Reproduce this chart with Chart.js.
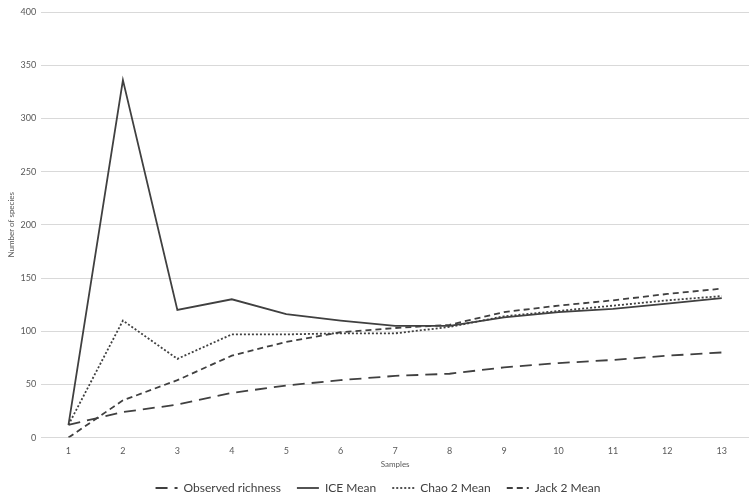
<!DOCTYPE html>
<html>
<head>
<meta charset="utf-8">
<script src="https://cdn.jsdelivr.net/npm/chart.js@4/dist/chart.umd.min.js"></script>
<style>
  html, body { margin: 0; padding: 0; background: #fff; }
  #wrap { width: 756px; height: 499px; position: relative; }
</style>
</head>
<body>
<div id="wrap"><canvas id="speciesChart"></canvas></div>
<script>
// Samples along the x axis
const samples = ['1', '2', '3', '4', '5', '6', '7', '8', '9', '10', '11', '12', '13'];

// Series
const observedRichness = [12, 24, 31, 42, 49, 54, 58, 60, 66, 70, 73, 77, 80];
const iceMean = [12, 336, 120, 130, 116, 110, 105, 105, 113, 118, 121, 126, 131];
const chao2Mean = [12, 110, 74, 97, 97, 98, 98, 104, 114, 119, 124, 129, 133];
const jack2Mean = [0, 35, 54, 77, 90, 99, 103, 106, 118, 124, 129, 135, 140];

const lineColor = '#404040';
const tickColor = '#595959';

function makeSeries(label, data, dash) {
    return {
        label: label,
        data: data,
        borderColor: lineColor,
        backgroundColor: lineColor,
        borderWidth: 1.8,
        borderDash: dash,
        pointRadius: 0,
        fill: false,
        tension: 0
    };
}

// Legend items: keep the dash pattern of each line
function legendLabels(chart) {
    const items = Chart.defaults.plugins.legend.labels.generateLabels(chart);
    items.forEach(item => {
        item.lineDash = chart.data.datasets[item.datasetIndex].borderDash;
    });
    return items;
}

const ctx = document.getElementById('speciesChart').getContext('2d');
new Chart(ctx, {
    type: 'line',
    data: {
        labels: samples,
        datasets: [
            makeSeries('Observed richness', observedRichness, [12, 7]),
            makeSeries('ICE Mean', iceMean, []),
            makeSeries('Chao 2 Mean', chao2Mean, [2, 2]),
            makeSeries('Jack 2 Mean', jack2Mean, [6, 4])
        ]
    },
    options: {
        responsive: true,
        maintainAspectRatio: false,
        animation: false,
        layout: { padding: { top: 12, right: 7, left: 7, bottom: -5 } },
        plugins: {
            legend: {
                position: 'bottom',
                labels: {
                    usePointStyle: true,
                    pointStyle: 'line',
                    pointStyleWidth: 22,
                    boxHeight: 10,
                    padding: 16,
                    color: '#404040',
                    font: { family: 'Lato', size: 12 },
                    generateLabels: legendLabels
                }
            },
            tooltip: { enabled: false }
        },
        scales: {
            x: {
                offset: true,
                grid: { display: false, drawTicks: false },
                border: { display: false },
                ticks: { color: tickColor, font: { family: 'Lato', size: 9 }, padding: 8, maxRotation: 0 },
                title: { display: true, text: 'Samples', color: tickColor, font: { family: 'Lato', size: 8 }, padding: { top: -5, bottom: -3 } }
            },
            y: {
                min: 0,
                max: 400,
                ticks: { stepSize: 50, color: tickColor, font: { family: 'Lato', size: 9 }, padding: 5 },
                grid: { color: '#d9d9d9', lineWidth: 1, drawTicks: false },
                border: { display: false },
                title: { display: true, text: 'Number of species', color: tickColor, font: { family: 'Lato', size: 8 }, padding: { top: 0, bottom: -1 } }
            }
        }
    }
});
</script>
</body>
</html>
